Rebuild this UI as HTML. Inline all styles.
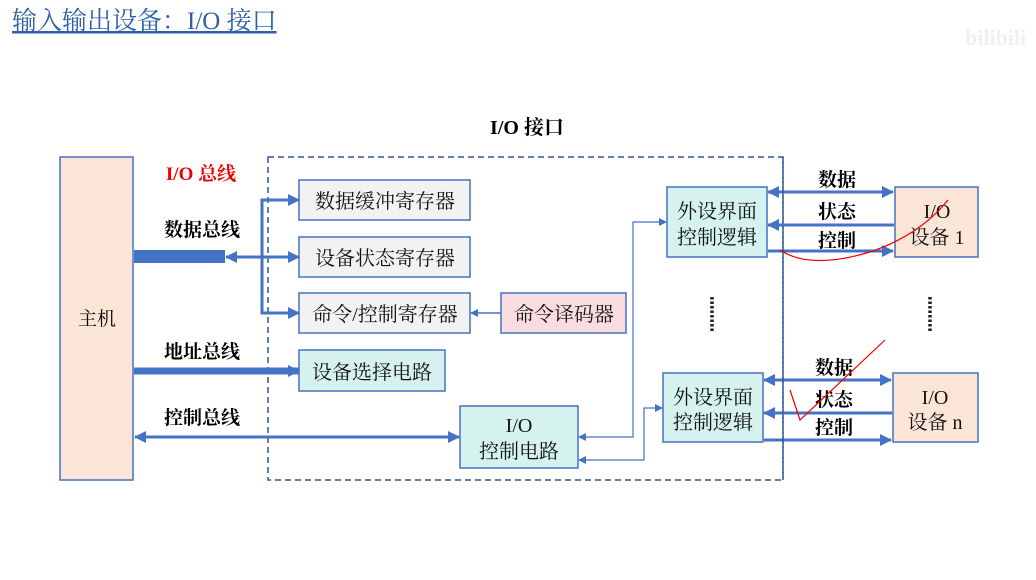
<!DOCTYPE html>
<html><head><meta charset="utf-8"><style>
body{margin:0;background:#fff;width:1036px;height:575px;overflow:hidden}
text{font-family:"Liberation Serif","Noto Serif CJK SC",serif}
</style></head><body>
<svg width="1036" height="575" viewBox="0 0 1036 575" xmlns="http://www.w3.org/2000/svg">
<defs>
<marker id="a" markerWidth="8" markerHeight="8" refX="7" refY="4" orient="auto-start-reverse" markerUnits="userSpaceOnUse"><path d="M0,0 L8,4 L0,8 z" fill="#4472c4"/></marker>
<marker id="b" markerWidth="12" markerHeight="12" refX="11" refY="6" orient="auto-start-reverse" markerUnits="userSpaceOnUse"><path d="M0,0 L12,6 L0,12 z" fill="#4472c4"/></marker>
</defs>
<text x="12" y="29" font-size="25" fill="#2e5fa8" style="text-decoration:underline">输入输出设备：I/O 接口</text>
<text x="965" y="45" font-size="22" fill="#f0f0f0" font-family="Liberation Sans" font-weight="bold">bilibili</text>
<text x="527" y="134" font-size="20" font-weight="bold" text-anchor="middle">I/O 接口</text>
<rect x="268" y="157" width="515" height="323" fill="none" stroke="#2f5597" stroke-width="1.5" stroke-dasharray="6,4"/>
<rect x="60" y="157" width="73" height="323" fill="#fbe5d6" stroke="#4472c4" stroke-width="1.5"/>
<text x="97" y="325" font-size="19" text-anchor="middle">主机</text>
<g font-size="19" font-weight="bold" text-anchor="middle">
<text x="201" y="180" fill="#e00">I/O 总线</text>
<text x="202" y="236">数据总线</text>
<text x="202" y="358">地址总线</text>
<text x="202" y="424">控制总线</text>
</g>
<rect x="134" y="250" width="91" height="13" fill="#4472c4"/>
<g stroke="#4472c4" fill="none">
<line x1="226" y1="257" x2="299" y2="257" stroke-width="3" marker-start="url(#b)" marker-end="url(#b)"/>
<polyline points="299,200 262,200 262,313 299,313" stroke-width="3"/>
<line x1="262" y1="200" x2="299" y2="200" stroke-width="3" marker-end="url(#b)"/>
<line x1="262" y1="313" x2="299" y2="313" stroke-width="3" marker-end="url(#b)"/>
<line x1="501" y1="313" x2="471" y2="313" stroke-width="1.5" marker-end="url(#a)"/>
<line x1="134" y1="371" x2="299" y2="371" stroke-width="7" marker-end="url(#b)"/>
<line x1="135" y1="437" x2="459" y2="437" stroke-width="3" marker-start="url(#b)" marker-end="url(#b)"/>
<polyline points="579,437 633,437 633,222 666,222" stroke-width="1.2" marker-start="url(#a)" marker-end="url(#a)"/>
<polyline points="579,460 644,460 644,408 662,408" stroke-width="1.2" marker-start="url(#a)" marker-end="url(#a)"/>
<line x1="768" y1="192" x2="893" y2="192" stroke-width="3" marker-start="url(#b)" marker-end="url(#b)"/>
<line x1="894" y1="225" x2="768" y2="225" stroke-width="3" marker-end="url(#b)"/>
<line x1="768" y1="251" x2="893" y2="251" stroke-width="3" marker-end="url(#b)"/>
<line x1="764" y1="380" x2="891" y2="380" stroke-width="3" marker-start="url(#b)" marker-end="url(#b)"/>
<line x1="892" y1="413" x2="764" y2="413" stroke-width="3" marker-end="url(#b)"/>
<line x1="764" y1="440" x2="891" y2="440" stroke-width="3" marker-end="url(#b)"/>
</g>
<line x1="783" y1="157" x2="783" y2="480" stroke="#2f5597" stroke-width="1.5" stroke-dasharray="6,4"/>
<g stroke="#4472c4" stroke-width="1.5">
<rect x="299" y="180" width="171" height="40" fill="#f2f2f2"/>
<rect x="299" y="237" width="171" height="40" fill="#f2f2f2"/>
<rect x="299" y="293" width="171" height="40" fill="#f2f2f2"/>
<rect x="501" y="293" width="125" height="40" fill="#f8dce0"/>
<rect x="299" y="350" width="146" height="41" fill="#d5f2ef"/>
<rect x="460" y="406" width="118" height="62" fill="#d5f2ef"/>
<rect x="667" y="187" width="100" height="70" fill="#d5f2ef"/>
<rect x="663" y="373" width="100" height="69" fill="#d5f2ef"/>
<rect x="895" y="187" width="83" height="70" fill="#fbe5d6"/>
<rect x="893" y="373" width="85" height="69" fill="#fbe5d6"/>
</g>
<g font-size="20" text-anchor="middle" fill="#111">
<text x="385" y="208">数据缓冲寄存器</text>
<text x="385" y="265">设备状态寄存器</text>
<text x="385" y="321">命令/控制寄存器</text>
<text x="564" y="321">命令译码器</text>
<text x="372" y="379">设备选择电路</text>
<text x="519" y="432">I/O</text>
<text x="519" y="458">控制电路</text>
<text x="717" y="218">外设界面</text>
<text x="717" y="244">控制逻辑</text>
<text x="713" y="404">外设界面</text>
<text x="713" y="429">控制逻辑</text>
<text x="937" y="218">I/O</text>
<text x="937" y="244">设备 1</text>
<text x="935" y="404">I/O</text>
<text x="935" y="429">设备 n</text>
</g>
<g font-size="19" font-weight="bold" text-anchor="middle">
<text x="837" y="186">数据</text>
<text x="837" y="218">状态</text>
<text x="837" y="247">控制</text>
<text x="834" y="374">数据</text>
<text x="834" y="406">状态</text>
<text x="834" y="434">控制</text>
</g>
<line x1="712" y1="297" x2="712" y2="331" stroke="#222" stroke-width="3.5" stroke-dasharray="2.5,2"/>
<line x1="930" y1="297" x2="930" y2="331" stroke="#222" stroke-width="3.5" stroke-dasharray="2.5,2"/>
<g stroke="#e00" stroke-width="1.2" fill="none">
<path d="M780,250 Q810,270 870,252 Q920,235 948,200"/>
<path d="M790,390 L800,420 L885,340"/>
</g>
</svg>
</body></html>
